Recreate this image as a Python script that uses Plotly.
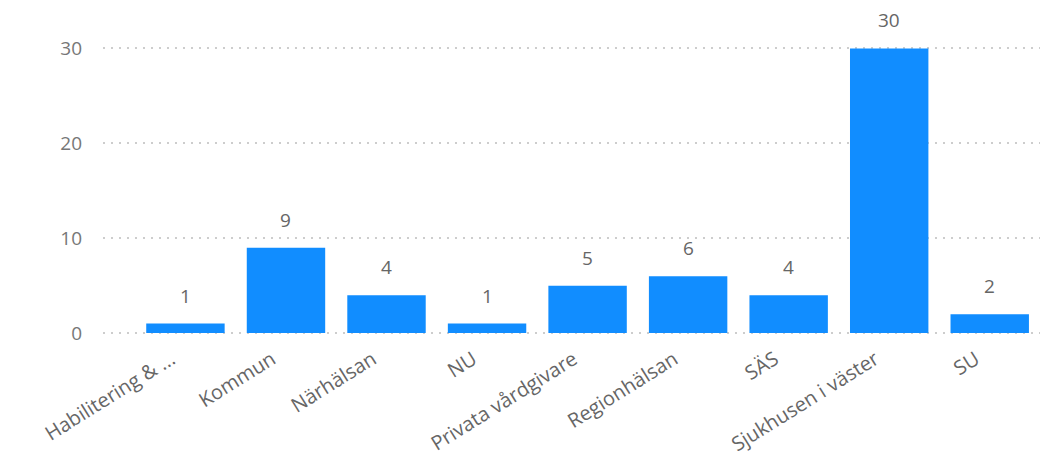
import plotly.graph_objects as go

categories = ["Habilitering & ...", "Kommun", "Närhälsan", "NU", "Privata vårdgivare",
              "Regionhälsan", "SÄS", "Sjukhusen i väster", "SU"]
values = [1, 9, 4, 1, 5, 6, 4, 30, 2]
y_ticks = [0, 10, 20, 30]

xs = list(range(len(categories)))

fig = go.Figure()
fig.add_trace(go.Bar(
    x=xs,
    y=values,
    marker=dict(color="#118DFF", line=dict(width=0)),
    width=0.78,
))

for x, v in zip(xs, values):
    fig.add_annotation(
        x=x, y=v, text=str(v), showarrow=False,
        yanchor="bottom", yshift=13,
        font=dict(size=19, color="#666666"),
    )

fig.update_layout(
    width=1040, height=453,
    margin=dict(l=95, r=8, t=12, b=126),
    paper_bgcolor="white", plot_bgcolor="white",
    font=dict(family="Open Sans, Noto Sans, sans-serif", color="#666666", size=19),
    showlegend=False,
    xaxis=dict(
        tickmode="array",
        tickvals=xs,
        ticktext=categories,
        range=[-0.82, 8.5],
        tickangle=-32,
        showgrid=False, zeroline=False, showline=False,
        ticks="", tickfont=dict(size=20, color="#666666"),
        ticklabelshift=-14, ticklabelstandoff=8,
        automargin=False,
    ),
    yaxis=dict(
        range=[-0.2, 33],
        tickmode="array",
        tickvals=y_ticks,
        showgrid=True,
        gridcolor="#CDCDCD",
        griddash="2px,6px",
        gridwidth=2,
        zeroline=False, showline=False,
        ticks="", ticklabelstandoff=20,
        tickfont=dict(size=19, color="#777777"),
        automargin=False,
    ),
)

fig.write_html("out.html")
